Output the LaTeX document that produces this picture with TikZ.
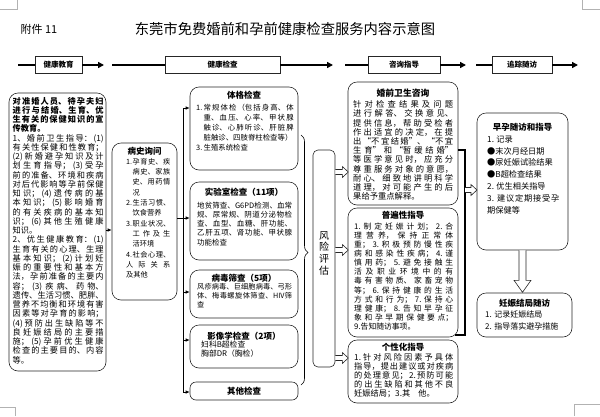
\documentclass[tikz,border=0pt]{standalone}
\usepackage{fontspec}
\setmainfont{Noto Sans CJK SC}
\usetikzlibrary{arrows.meta,decorations.pathreplacing}
\XeTeXlinebreaklocale "zh"
\XeTeXlinebreakskip=0pt plus 4pt
\setlength{\parindent}{0pt}
\tolerance=10000
\hbadness=10000
\newcommand{\numitem}[2][1.1em]{\hangindent=#1\hangafter=1\makebox[#1][l]{#2}}
\newcommand{\hollowright}[2]{\draw[hollow] #1 ++(0,-2.5) -- ++(#2-6,0) -- ++(0,-3) -- ++(6,5.5) -- ++(-6,5.5) -- ++(0,-3) -- ++(-#2+6,0);}
\tikzset{
  rbox/.style={draw=black!85, line width=0.6pt, rounded corners=9pt},
  hbox/.style={draw=black!85, line width=0.6pt, minimum height=17pt, font=\bfseries\fontsize{7.5}{8}\selectfont},
  hline/.style={line width=1.6pt},
  harr/.style={line width=1.6pt, -{Triangle[length=6pt,width=6pt]}},
  arr/.style={line width=0.7pt, -{Latex[length=4pt,width=3.5pt]}},
  txt/.style={anchor=north west, inner sep=0pt, align=justify},
  ttl/.style={inner sep=0pt, font=\bfseries\fontsize{8.5}{9}\selectfont},
  hollow/.style={draw=black!85, line width=0.6pt, fill=white},
  cornermark/.style={draw=black!30, line width=0.5pt}
}
\begin{document}
\begin{tikzpicture}[x=1pt,y=-1pt]
\useasboundingbox (0,0) rectangle (600,416);
% page corner marks
\draw[cornermark] (0,9) -- (17,9) -- (17,0);
\draw[cornermark] (600,9) -- (582,9) -- (582,0);
\draw[cornermark] (0,407) -- (15,407) -- (15,416);
\draw[cornermark] (600,404) -- (574,404) -- (574,416);
% title
\node[font=\fontsize{11}{12}\selectfont] (fujian) at (39,29) {附件 11};
\node[font=\fontsize{14.3}{16}\selectfont] (title) at (285,29) {东莞市免费婚前和孕前健康检查服务内容示意图};
% header row
\node[hbox, minimum width=47pt] (h1) at (58.5,65) {健康教育};
\node[hbox, minimum width=115pt] (h2) at (222.5,65) {健康检查};
\node[hbox, minimum width=72pt] (h3) at (404,65) {咨询指导};
\node[hbox, minimum width=60pt] (h4) at (522,65) {追踪随访};
\coordinate (h1a) at (18,65); \coordinate (h1b) at (104,65);
\coordinate (h2a) at (112,65); \coordinate (h2b) at (333,65);
\coordinate (h3a) at (345,65); \coordinate (h3b) at (466,65);
\coordinate (h4a) at (476,65); \coordinate (h4b) at (578,65);
\foreach \h in {1,...,4}{
  \draw[hline] (h\h a) -- (h\h.west);
  \draw[harr] (h\h.east) -- (h\h b);
}
% health education
\node[rbox, minimum width=97pt, minimum height=278pt] (edu) at (57.5,232) {};
\node[txt, text width=91pt, font=\fontsize{8.2}{9.25}\selectfont] (edutxt) at (12.5,97) {{\bfseries 对准婚人员、待孕夫妇\linebreak 进行与结婚、生育、优\linebreak 生有关的保健知识的宣\linebreak 传教育。\par}%
1、婚前卫生指导：(1)\linebreak 有关性保健和性教育；\linebreak (2)新婚避孕知识及计\linebreak 划生育指导；(3)受孕\linebreak 前的准备、环境和疾病\linebreak 对后代影响等孕前保健\linebreak 知识；(4)遗传病的基\linebreak 本知识；(5)影响婚育\linebreak 的有关疾病的基本知\linebreak 识；(6)其他生殖健康\linebreak 知识。\par
2、优生健康教育：(1)\linebreak 生育有关的心理、生理\linebreak 基本知识；(2)计划妊\linebreak 娠的重要性和基本方\linebreak 法，孕前准备的主要内\linebreak 容；(3)疾病、药物、\linebreak 遗传、生活习惯、肥胖、\linebreak 营养不均衡和环境有害\linebreak 因素等对孕育的影响；\linebreak (4)预防出生缺陷等不\linebreak 良妊娠结局的主要措\linebreak 施；(5)孕前优生健康\linebreak 检查的主要目的、内容\linebreak 等。};
% history
\node[rbox, minimum width=65pt, minimum height=157pt] (bingshi) at (144.5,221.5) {};
\node[ttl] (bingshittl) at (144.5,151) {病史询问};
\node[txt, text width=44pt, font=\fontsize{7.2}{10.3}\selectfont] (bingshitxt) at (126,158) {\numitem[0.9em]{1.}孕育史、疾\linebreak 病史、家族\linebreak 史、用药情\linebreak 况\par
\numitem[0.9em]{2.}生活习惯、\linebreak 饮食营养\par
\numitem[0.9em]{3.}职业状况、\linebreak 工作及生\linebreak 活环境\par
\numitem[0.9em]{4.}社会心理、\linebreak 人际关系\linebreak 及其他};
% examinations
\node[rbox, minimum width=108pt, minimum height=83pt] (tige) at (244,128.5) {};
\node[ttl] (tigettl) at (244,95) {体格检查};
\node[txt, text width=97.5pt, font=\fontsize{7.4}{10.2}\selectfont] (tigetxt) at (196,103.5) {\numitem[1em]{1.}常规体检（包括身高、体\linebreak 重、血压、心率、甲状腺\linebreak 触诊、心肺听诊、肝脏脾\linebreak 脏触诊、四肢脊柱检查等）\par
\numitem[1em]{3.}生殖系统检查};
\node[rbox, minimum width=108pt, minimum height=78pt] (shiyan) at (244,221) {};
\node[ttl] (shiyanttl) at (244,192) {实验室检查（11项）};
\node[txt, text width=95pt, font=\fontsize{7.5}{9.3}\selectfont] (shiyantxt) at (197,201.5) {地贫筛查、G6PD检测、血常\linebreak 规、尿常规、阴道分泌物检\linebreak 查、血型、血糖、肝功能、\linebreak 乙肝五项、肾功能、甲状腺\linebreak 功能检查};
\node[rbox, minimum width=108pt, minimum height=48pt] (bingdu) at (244,294) {};
\node[ttl] (bingduttl) at (244,278) {病毒筛查（5项）};
\node[txt, text width=95pt, font=\fontsize{7.2}{8.7}\selectfont] (bingdutxt) at (197,283.5) {风疹病毒、巨细胞病毒、弓形\linebreak 体、梅毒螺旋体筛查、HIV筛\linebreak 查};
\node[rbox, minimum width=108pt, minimum height=43pt] (yingxiang) at (244,346.5) {};
\node[ttl] (yingxiangttl) at (244,336) {影像学检查（2项）};
\node[txt, text width=90pt, font=\fontsize{7.8}{8.8}\selectfont] (yingxiangtxt) at (201,341) {妇科B超检查\par 胸部DR（胸检）};
\node[rbox, rounded corners=6pt, minimum width=108pt, minimum height=18pt, font=\bfseries\fontsize{8.5}{9}\selectfont] (qita) at (244,391) {其他检查};
% spine
\coordinate (sp1) at (183,108);
\coordinate (sp2) at (183,218);
\coordinate (sp3) at (183,292);
\coordinate (sp4) at (183,340);
\coordinate (sp5) at (183,392);
\draw[line width=0.7pt] (sp1) -- (sp5);
\draw[arr] (sp1) -- (sp1 -| tige.west);
\draw[arr] (sp2) -- (sp2 -| shiyan.west);
\draw[arr] (sp3) -- (sp3 -| bingdu.west);
\draw[arr] (sp4) -- (sp4 -| yingxiang.west);
\draw[arr] (sp5) -- (sp5 -| qita.west);
\draw[line width=0.7pt] (bingshi.east |- sp2) -- (sp2);
\coordinate (eduout) at (edu.east |- 0,230);
\draw[arr] (eduout) -- (eduout -| bingshi.west);
% brace to risk
\coordinate (brtop) at (301,135);
\coordinate (brbot) at (301,385);
\draw[line width=0.6pt, decorate, decoration={brace, amplitude=7pt, aspect=0.47}] (brtop) -- (brbot);
\node[rbox, rounded corners=5pt, minimum width=22pt, minimum height=217pt] (risk) at (324,258.5) {};
\node[font=\fontsize{10}{11.7}\selectfont, align=center, inner sep=0pt] (risktxt) at (324,253) {风\\险\\评\\估};
% consultation
\node[rbox, minimum width=110pt, minimum height=123pt] (hunqian) at (403,143.5) {};
\node[ttl, font=\bfseries\fontsize{8.8}{9}\selectfont] (hunqianttl) at (403,93) {婚前卫生咨询};
\node[txt, text width=100pt, font=\fontsize{8.3}{9.2}\selectfont] (hunqiantxt) at (353,100.5) {针对检查结果及问题\linebreak 进行解答、交换意见、\linebreak 提供信息，帮助受检者\linebreak 作出适宜的决定，在提\linebreak 出“不宜结婚”、“不宜\linebreak 生育”和“暂缓结婚”\linebreak 等医学意见时，应充分\linebreak 尊重服务对象的意愿，\linebreak 耐心、细致地讲明科学\linebreak 道理，对可能产生的后\linebreak 果给予重点解释。};
\node[rbox, minimum width=110pt, minimum height=129pt] (pubian) at (403,272.5) {};
\node[ttl] (pubianttl) at (403,215) {普遍性指导};
\node[txt, text width=99pt, font=\fontsize{7.8}{9.1}\selectfont] (pubiantxt) at (354,222.5) {1.制定妊娠计划；2.合\linebreak 理营养，保持正常体\linebreak 重；3.积极预防慢性疾\linebreak 病和感染性疾病；4.谨\linebreak 慎用药；5.避免接触生\linebreak 活及职业环境中的有\linebreak 毒有害物质、家畜宠物\linebreak 等；6.保持健康的生活\linebreak 方式和行为；7.保持心\linebreak 理健康；8.告知早孕征\linebreak 象和孕早期保健要点；\linebreak 9.告知随访事项。};
\node[rbox, minimum width=110pt, minimum height=63pt] (gexing) at (403,371.5) {};
\node[ttl] (gexingttl) at (403,347) {个性化指导};
\node[txt, text width=99pt, font=\fontsize{8.2}{9}\selectfont] (gexingtxt) at (354,353.5) {1.针对风险因素予具体\linebreak 指导，提出建议或对疾病\linebreak 的处理意见；2.预防可能\linebreak 的出生缺陷和其他不良\linebreak 妊娠结局；3.其\quad 他。};
% hollow arrows from risk
\coordinate (ra1) at (risk.east |- 0,172);
\coordinate (ra2) at (risk.east |- 0,250);
\coordinate (ra3) at (risk.east |- 0,358);
\hollowright{(ra1)}{13}
\hollowright{(ra2)}{13}
\hollowright{(ra3)}{13}
% bracket to follow-up
\coordinate (bk1) at (465,150);
\coordinate (bk2) at (465,335);
\coordinate (bk3) at (465,190);
\draw[line width=1.2pt] (hunqian.east |- bk1) -- (bk1) -- (bk2) -- ([xshift=-3pt]bk2 -| pubian.east);
\hollowright{(bk3)}{12}
% follow-up
\node[rbox, minimum width=91pt, minimum height=137pt] (zaoyun) at (522.5,181.5) {};
\node[ttl] (zaoyunttl) at (522.5,127) {早孕随访和指导};
\node[txt, text width=72pt, font=\fontsize{8.2}{11.8}\selectfont] (zaoyuntxt) at (487,135.5) {1. 记录\par ●末次月经日期\par ●尿妊娠试验结果\par ●B超检查结果\par 2. 优生相关指导\par
\numitem[1.2em]{3.}建议定期接受孕\linebreak 期保健等};
\node[rbox, minimum width=95pt, minimum height=44pt] (renshen) at (524.5,315) {};
\node[ttl] (renshenttl) at (524.5,303) {妊娠结局随访};
\node[txt, text width=82pt, font=\fontsize{8}{11.8}\selectfont] (renshentxt) at (485,310.5) {1. 记录妊娠结局\par 2. 指导落实避孕措施};
\draw[hollow] (zaoyun.south) ++(-3.5,0) -- ++(0,30) -- ++(-5,0) -- ++(8.5,12) -- ++(8.5,-12) -- ++(-5,0) -- ++(0,-30);
\end{tikzpicture}
\end{document}
